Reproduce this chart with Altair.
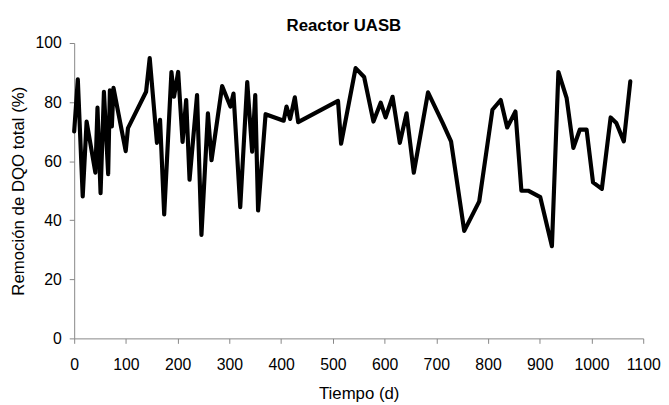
import altair as alt
import pandas as pd

dias = [0, 7, 16.5, 24, 41, 45, 51, 57.5, 65.7, 69, 72.8, 76, 99.6, 104, 139, 146,
        160, 166, 174, 188, 193, 201, 209.5, 216.5, 223, 237.5, 246, 258.5, 265.5,
        286, 302, 308, 321, 334.5, 344, 350, 355.5, 370, 405, 410.5, 417.5, 426.5,
        433, 510, 516, 544, 560.5, 578.5, 592.5, 602, 615.5, 629.5, 642.5, 656.5,
        684, 712.5, 728.5, 754, 783, 808.5, 824.5, 837, 853, 864.5, 877.5, 901,
        923.5, 936, 952, 965, 977.5, 990.5, 1003, 1020, 1037, 1048, 1062.5, 1075]
remocion = [70.1, 87.7, 48.1, 73.4, 56.1, 78.1, 49.2, 83.5, 55.6, 84, 71.8, 84.8,
            63.4, 71.2, 83.5, 94.9, 66.2, 74, 42, 90.2, 81.8, 90.2, 66.5, 80.7, 53.7,
            82.4, 35.0, 76.2, 60.3, 85.4, 78.5, 82.9, 44.4, 86.8, 63.2, 82.4, 43.3,
            75.9, 73.7, 78.5, 74.3, 81.6, 73.2, 80.4, 65.9, 91.5, 88.5, 73.4, 79.8,
            74.8, 81.8, 66.2, 76.2, 56.1, 83.3, 72.9, 66.7, 36.4, 46.4, 77.4, 80.7,
            71.4, 76.8, 50, 50, 47.8, 31.2, 90.2, 81.3, 64.5, 70.7, 70.7, 52.8, 50.6,
            74.8, 72.9, 66.7, 87]

df = pd.DataFrame({"Tiempo": dias, "Remocion": remocion})

font = "Liberation Sans"

chart = alt.Chart(df).mark_line(color="black", strokeWidth=4.2, strokeJoin="round", strokeCap="round").encode(
    x=alt.X("Tiempo:Q", scale=alt.Scale(domain=[0, 1100], nice=False, zero=False),
            axis=alt.Axis(title="Tiempo (d)", values=list(range(0, 1101, 100)), format="d",
                          grid=False, domainColor="#868686", tickColor="#868686",
                          tickSize=5, labelFont=font, labelFontSize=16, labelColor="black",
                          labelPadding=14, titleFont=font, titleFontSize=17, titleFontWeight="normal",
                          titleColor="black", titlePadding=13, labelFlush=False)),
    y=alt.Y("Remocion:Q", scale=alt.Scale(domain=[0, 100], nice=False),
            axis=alt.Axis(title="Remoción de DQO total (%)", values=list(range(0, 101, 20)),
                          grid=False, domainColor="#868686", tickColor="#868686",
                          tickSize=5, labelFont=font, labelFontSize=16, labelColor="black",
                          labelPadding=8, titleFont=font, titleFontSize=17, titleFontWeight="normal",
                          titleColor="black", titlePadding=8)),
).properties(
    width=576, height=299,
    title=alt.TitleParams("Reactor UASB", font=font, fontSize=17, fontWeight="bold", color="black",
                          offset=0, dx=-15),
    autosize=alt.AutoSizeParams(type="none"),
    padding={"left": 67, "top": 33, "right": 18, "bottom": 66},
).configure_view(stroke=None)

chart.save("out.html", embed_options={"renderer": "svg", "actions": False})
